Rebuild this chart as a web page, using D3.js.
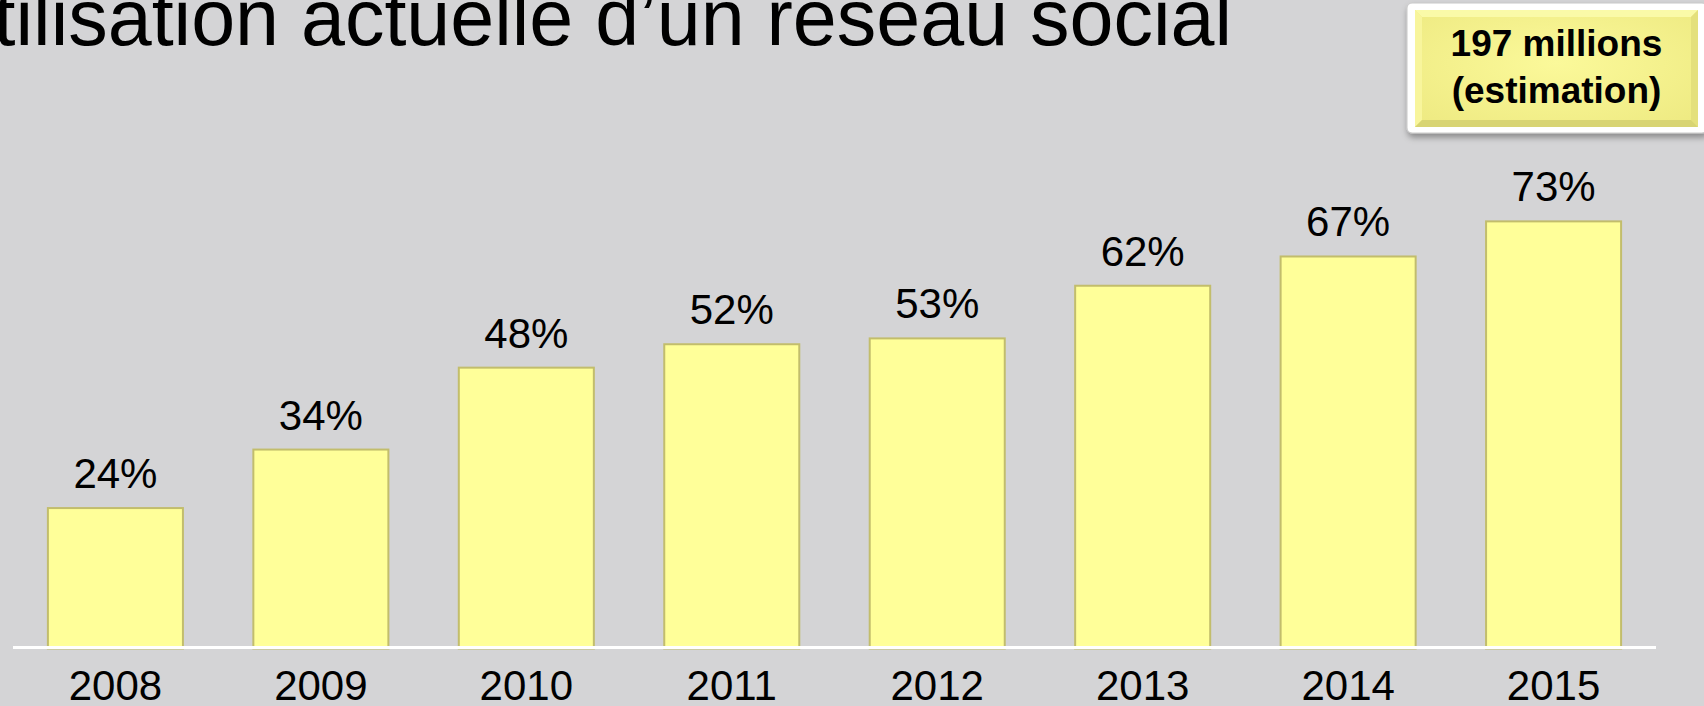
<!DOCTYPE html>
<html>
<head>
<meta charset="utf-8">
<script src="https://cdn.jsdelivr.net/npm/d3@7"></script>
<style>
  html, body { margin: 0; padding: 0; background: #d4d4d6; overflow: hidden; }
  svg { display: block; font-family: Arial, "Liberation Sans", sans-serif; }
</style>
</head>
<body>
<div id="chart"></div>
<script>
// chart data
const years = ["2008", "2009", "2010", "2011", "2012", "2013", "2014", "2015"];
const shares = [24, 34, 48, 52, 53, 62, 67, 73];
const valueLabels = ["24%", "34%", "48%", "52%", "53%", "62%", "67%", "73%"];
const titleText = "Utilisation actuelle d\u2019un réseau social";
const calloutLines = ["197 millions", "(estimation)"];

const W = 1704, H = 706;

const svg = d3.select("#chart").append("svg")
  .attr("width", W)
  .attr("height", H);

svg.append("rect")
  .attr("width", W)
  .attr("height", H)
  .attr("fill", "#d4d4d6");

const defs = svg.append("defs");
const shadow = defs.append("filter").attr("id", "shadow")
  .attr("x", "-10%").attr("y", "-10%").attr("width", "130%").attr("height", "140%");
shadow.append("feDropShadow")
  .attr("dx", 1).attr("dy", 4).attr("stdDeviation", 3)
  .attr("flood-color", "#000").attr("flood-opacity", 0.35);

const face = defs.append("radialGradient").attr("id", "face")
  .attr("cx", "50%").attr("cy", "45%").attr("r", "70%");
face.append("stop").attr("offset", "0%").attr("stop-color", "#fbf99a");
face.append("stop").attr("offset", "100%").attr("stop-color", "#eeea82");

// title, cut off at the top of the frame
svg.append("text")
  .attr("x", 1232)
  .attr("y", 45)
  .attr("text-anchor", "end")
  .style("font-size", "79px")
  .attr("fill", "#000")
  .text(titleText);

const x = d3.scaleBand()
  .domain(years)
  .range([13, 1656])
  .paddingInner(0.333)
  .paddingOuter(0.165);

const y = d3.scaleLinear()
  .domain([0, 100])
  .range([648.5, 63.4]);

const g = svg.append("g");

g.selectAll(".bar")
  .data(shares)
  .enter().append("rect")
  .attr("class", "bar")
  .attr("x", (d, i) => x(years[i]) + 1)
  .attr("y", d => y(d))
  .attr("width", x.bandwidth() - 2)
  .attr("height", d => y(0) - y(d))
  .attr("fill", "#ffff99")
  .attr("stroke", "#c2bd6c")
  .attr("stroke-width", 2);

g.selectAll(".value")
  .data(shares)
  .enter().append("text")
  .attr("class", "value")
  .attr("x", (d, i) => x(years[i]) + x.bandwidth() / 2)
  .attr("y", d => y(d) - 20)
  .attr("text-anchor", "middle")
  .style("font-size", "42px")
  .attr("fill", "#000")
  .text((d, i) => valueLabels[i]);

// baseline
g.append("line")
  .attr("x1", x.range()[0])
  .attr("x2", x.range()[1])
  .attr("y1", y(0) - 1)
  .attr("y2", y(0) - 1)
  .attr("stroke", "#ffffff")
  .attr("stroke-width", 3);

const xAxis = g.append("g")
  .attr("transform", `translate(0,${y(0)})`)
  .call(d3.axisBottom(x).tickSize(0).tickPadding(0));
xAxis.select(".domain").remove();
xAxis.selectAll("text")
  .attr("y", 51)
  .attr("dy", 0)
  .style("font-size", "42px")
  .style("font-family", "Arial, 'Liberation Sans', sans-serif")
  .attr("fill", "#000");

// callout box
const box = svg.append("g");
box.append("rect")
  .attr("x", 1407).attr("y", 3)
  .attr("width", 300).attr("height", 130)
  .attr("rx", 5)
  .attr("fill", "#ffffff")
  .attr("stroke", "#c8c8c8")
  .attr("filter", "url(#shadow)");

const bx = 1415, by = 10, bw = 283, bh = 117, bv = 7;
box.append("rect")
  .attr("x", bx).attr("y", by)
  .attr("width", bw).attr("height", bh)
  .attr("fill", "url(#face)");
// bevel edges
box.append("polygon")
  .attr("points", [[bx, by], [bx + bw, by], [bx + bw - bv, by + bv], [bx + bv, by + bv]].join(" "))
  .attr("fill", "#fafaa8");
box.append("polygon")
  .attr("points", [[bx, by], [bx + bv, by + bv], [bx + bv, by + bh - bv], [bx, by + bh]].join(" "))
  .attr("fill", "#f8f59c");
box.append("polygon")
  .attr("points", [[bx + bw, by], [bx + bw, by + bh], [bx + bw - bv, by + bh - bv], [bx + bw - bv, by + bv]].join(" "))
  .attr("fill", "#e4e07c");
box.append("polygon")
  .attr("points", [[bx, by + bh], [bx + bw, by + bh], [bx + bw - bv, by + bh - bv], [bx + bv, by + bh - bv]].join(" "))
  .attr("fill", "#d8d473");

box.selectAll(".callout")
  .data(calloutLines)
  .enter().append("text")
  .attr("class", "callout")
  .attr("x", bx + bw / 2)
  .attr("y", (d, i) => 56 + i * 47)
  .attr("text-anchor", "middle")
  .style("font-size", "37px")
  .style("font-weight", "bold")
  .attr("fill", "#000")
  .text(d => d);
</script>
</body>
</html>
